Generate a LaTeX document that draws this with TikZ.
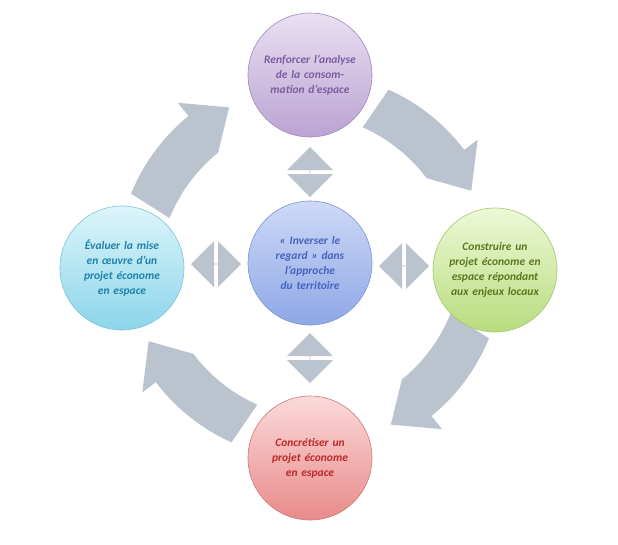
\documentclass[tikz,border=0pt]{standalone}
\usepackage{fontspec}
\setmainfont{Carlito}
\usetikzlibrary{shapes.arrows}
\definecolor{ag}{HTML}{BAC3CE}
\definecolor{tp}{HTML}{7B5EA0}\definecolor{pa}{HTML}{E9E0F2}\definecolor{pb}{HTML}{BBA3D3}\definecolor{pc}{HTML}{9F88BE}
\definecolor{tb}{HTML}{4664BE}\definecolor{ba}{HTML}{CDD9F6}\definecolor{bb}{HTML}{8EA7E6}\definecolor{bc}{HTML}{7E95D2}
\definecolor{tc}{HTML}{1E82AA}\definecolor{ca}{HTML}{DDF5FB}\definecolor{cb}{HTML}{8CD5EA}\definecolor{cc}{HTML}{7CC2D8}
\definecolor{tg}{HTML}{5A781E}\definecolor{ga}{HTML}{EEF8D8}\definecolor{gb}{HTML}{B7DD7E}\definecolor{gc}{HTML}{A2C86A}
\definecolor{tr}{HTML}{BE2828}\definecolor{ra}{HTML}{FADADA}\definecolor{rb}{HTML}{E98A8A}\definecolor{rc}{HTML}{D07878}
\tikzset{
 circ/.style n args={3}{circle,minimum size=124pt,inner sep=0pt,draw=#3,line width=0.6pt,
   top color=#1,bottom color=#2,text width=92pt,align=center,
   font=\fontsize{11.5pt}{15pt}\selectfont\bfseries\itshape},
 dbl/.style={double arrow,fill=ag,draw=none,minimum height=50pt,minimum width=46pt,
   double arrow head extend=12pt,inner sep=0pt},
}
\newcommand{\carrow}[1]{% tail angle
 \fill[ag] ({#1}:193pt) arc[start angle={#1},end angle={#1-29},radius=193pt]
   -- ({#1-29}:210pt) -- ({#1-41}:178pt) -- ({#1-29}:146pt)
   arc[start angle={#1-29},end angle={#1},radius=163pt] -- cycle;}
\begin{document}
\begin{tikzpicture}[x=1pt,y=-1pt]
\useasboundingbox (0,0) rectangle (618,544);
\begin{scope}[shift={(310,266)},y=1pt]
\carrow{158}\carrow{66}\carrow{-22}\carrow{246}
\end{scope}
\node[dbl,rotate=90] (d1) at (310,172) {};
\node[dbl,rotate=90] (d2) at (310,358) {};
\node[dbl] (d3) at (216,264) {};
\node[dbl] (d4) at (404,266) {};
\node[circ={pa}{pb}{pc},text=tp] (t) at (310,75) {Renforcer l’analyse de la consommation d’espace};
\node[circ={ba}{bb}{bc},text=tb] (c) at (310,263) {« Inverser le regard » dans l’approche du territoire};
\node[circ={ca}{cb}{cc},text=tc] (l) at (122,268) {Évaluer la mise en œuvre d’un projet économe en espace};
\node[circ={ga}{gb}{gc},text=tg] (r) at (495,270) {Construire un projet économe en espace répondant aux enjeux locaux};
\node[circ={ra}{rb}{rc},text=tr] (b) at (310,458) {Concrétiser un projet économe en espace};
\end{tikzpicture}
\end{document}
